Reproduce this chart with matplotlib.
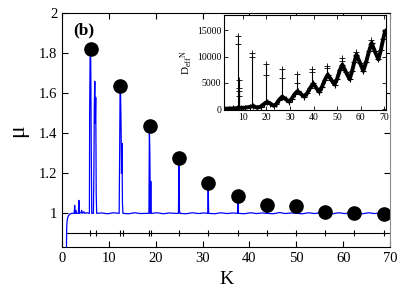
import matplotlib
matplotlib.use("Agg")
import matplotlib.pyplot as plt

plt.rcParams['font.family'] = ['Liberation Serif', 'DejaVu Serif']
plt.rcParams['mathtext.fontset'] = 'custom'
plt.rcParams['mathtext.rm'] = 'Liberation Serif'
plt.rcParams['mathtext.it'] = 'Liberation Serif:italic'

# ---- main panel: mu(K), (K, mu) pairs ----
mu_points = [
    (0.95, 0.83), (1.0, 0.93), (1.1, 0.965), (1.3, 0.985), (1.6, 0.995),
    (2.0, 1.0), (2.6, 1.0), (2.7, 1.04), (2.8, 1.0), (3.0, 1.015), (3.1, 1.0),
    (3.5, 1.0), (3.6, 1.065), (3.7, 1.0), (4.1, 1.005), (4.2, 1.015),
    (4.3, 1.0), (4.7, 1.008), (4.8, 1.0), (5.3, 1.003), (5.85, 1.0),
    (5.9, 1.5), (6.0, 1.79), (6.1, 1.81), (6.15, 1.7), (6.25, 1.3),
    (6.35, 1.0), (6.7, 1.0), (6.8, 1.2), (6.9, 1.55), (7.0, 1.66),
    (7.1, 1.45), (7.2, 1.58), (7.3, 1.1), (7.4, 1.0), (8.5, 1.002),
    (9.7, 0.998), (11.0, 1.003), (12.2, 1.0), (12.3, 1.3), (12.4, 1.62),
    (12.5, 1.6), (12.6, 1.45), (12.7, 1.2), (12.8, 1.35), (12.9, 1.05),
    (13.0, 1.0), (14.2, 0.998), (15.5, 1.003), (16.8, 0.999), (17.9, 1.0),
    (18.55, 1.0), (18.65, 1.42), (18.75, 1.3), (18.85, 1.0), (18.95, 1.16),
    (19.05, 1.0), (20.3, 1.003), (21.6, 0.998), (22.9, 1.002), (24.0, 1.0),
    (24.85, 1.0), (24.95, 1.26), (25.05, 1.02), (25.15, 1.0), (26.5, 0.998),
    (27.8, 1.003), (29.1, 0.999), (30.3, 1.002), (31.1, 1.0), (31.2, 1.13),
    (31.3, 1.0), (32.6, 0.998), (33.9, 1.003), (35.2, 0.999), (36.4, 1.002),
    (37.45, 1.0), (37.55, 1.058), (37.65, 1.0), (38.9, 0.998), (40.2, 1.003),
    (41.5, 0.999), (42.7, 1.002), (43.6, 1.0), (43.7, 1.02), (43.8, 1.0),
    (45.1, 0.998), (46.4, 1.004), (47.7, 0.999), (48.9, 1.002), (49.8, 1.0),
    (49.9, 1.012), (50.0, 1.0), (51.3, 0.998), (52.6, 1.003), (53.9, 0.999),
    (55.2, 1.004), (56.4, 1.0), (57.7, 0.998), (59.0, 1.003), (60.3, 0.999),
    (61.6, 1.002), (62.8, 1.0), (64.1, 0.998), (65.4, 1.003), (66.7, 0.999),
    (68.0, 1.002), (69.3, 1.0), (70.0, 0.999),
]
mu_K = [p[0] for p in mu_points]
mu_val = [p[1] for p in mu_points]

dot_K = [6.2, 12.45, 18.7, 24.9, 31.1, 37.5, 43.7, 49.9, 56.2, 62.4, 68.7]
dot_mu = [1.822, 1.638, 1.436, 1.278, 1.15, 1.088, 1.042, 1.038, 1.006,
          1.0, 0.998]

line_K = [0.93, 70.0]
line_y = [0.9, 0.9]
mark_K = [5.9, 7.25, 12.45, 12.95, 18.6, 18.97, 24.9, 31.2, 37.5, 43.7,
          49.9, 56.2, 62.4, 68.7]

# ---- inset: D_eff^N ----
d_points = [
    (2, 100), (4, 120), (6, 150), (7.5, 200), (9, 250), (11, 300), (13, 450),
    (14.5, 600), (16, 300), (17.5, 500), (19, 1000), (20.3, 1400),
    (21.7, 1050), (23.1, 650), (24.2, 1000), (25.4, 1800), (26.7, 2400),
    (28.2, 1900), (29.6, 1450), (30.7, 2000), (32.0, 2900), (33.2, 3450),
    (34.6, 2900), (36.0, 2400), (37.2, 3000), (38.6, 4100), (39.9, 4900),
    (41.2, 4000), (42.4, 3300), (43.6, 4300), (44.8, 5600), (46.0, 6600),
    (47.5, 5600), (48.9, 4700), (50.0, 5800), (51.1, 7400), (52.2, 8500),
    (53.8, 7000), (55.3, 5700), (56.3, 7200), (57.3, 9000), (58.2, 10400),
    (59.7, 8800), (61.1, 7300), (62.3, 9000), (63.5, 11000), (64.6, 12600),
    (66.0, 11000), (67.5, 9500), (68.5, 11200), (69.5, 13300), (70.3, 14800),
]
d_K = [p[0] for p in d_points]
d_val = [p[1] for p in d_points]

spike_K = [7.8, 8.2, 8.5, 13.9, 20.0, 26.4, 32.9, 39.3, 45.6, 51.9, 57.9,
           64.4]
spike_base = [200, 200, 200, 550, 1000, 2000, 3000, 4300, 6000, 7800, 9800,
              12000]
spike_top = [14000, 5500, 3500, 10800, 8700, 7600, 6650, 7600, 8200, 9800,
             10900, 13100]
spike_mid = [12500, 4000, 2600, 10000, 6500, 6000, 5000, 7000, 7800, 9200,
             10200, 12500]

fig = plt.figure(figsize=(4.15, 2.91), dpi=100)
ax = fig.add_axes([0.1494, 0.150, 0.7904, 0.804])

ax.plot(line_K, line_y, color='black', lw=0.8)
ax.plot(mark_K, [0.9] * len(mark_K), ls='none', marker='|', color='black',
        ms=4, mew=0.8)
ax.plot(mu_K, mu_val, color='#0000ff', lw=0.9)
ax.plot(dot_K, dot_mu, ls='none', marker='o', color='black', ms=9.5)

ax.set_xlim(0, 70)
ax.set_ylim(0.83, 2.0)
ax.set_xticks([0, 10, 20, 30, 40, 50, 60, 70])
ax.set_yticks([1.0, 1.2, 1.4, 1.6, 1.8, 2.0])
ax.set_yticklabels(['1', '1.2', '1.4', '1.6', '1.8', '2'])
ax.tick_params(direction='in', top=True, right=True, length=4, width=0.8,
               labelsize=10.5)
ax.spines['right'].set_color('0.55')
ax.set_xlabel('K', fontsize=14, labelpad=4)
ax.set_ylabel('μ', fontsize=17, labelpad=8)
ax.text(2.3, 1.915, '(b)', fontsize=12.5, fontweight='bold', va='center')

ins = fig.add_axes([0.5398, 0.622, 0.3896, 0.3275])
ins.vlines(spike_K, spike_base, spike_top, color='black', lw=0.8)
ins.plot(spike_K, spike_top, ls='none', marker='+', color='black', ms=4,
         mew=0.6)
ins.plot(spike_K, spike_mid, ls='none', marker='+', color='black', ms=4,
         mew=0.6)
ins.plot(d_K, d_val, color='black', lw=2.8, marker='+', ms=5, mew=0.8)
ins.set_xlim(2, 70.6)
ins.set_ylim(-150, 18000)
ins.set_xticks([10, 20, 30, 40, 50, 60, 70])
ins.set_yticks([0, 5000, 10000, 15000])
ins.tick_params(direction='in', top=True, right=True, length=3, width=0.6,
                labelsize=7, pad=2)
ins.set_ylabel(r'$\mathrm{D}_{\mathrm{eff}}{}^{\mathrm{N}}$', fontsize=8,
               labelpad=1)

fig.savefig('out.png', dpi=100)
